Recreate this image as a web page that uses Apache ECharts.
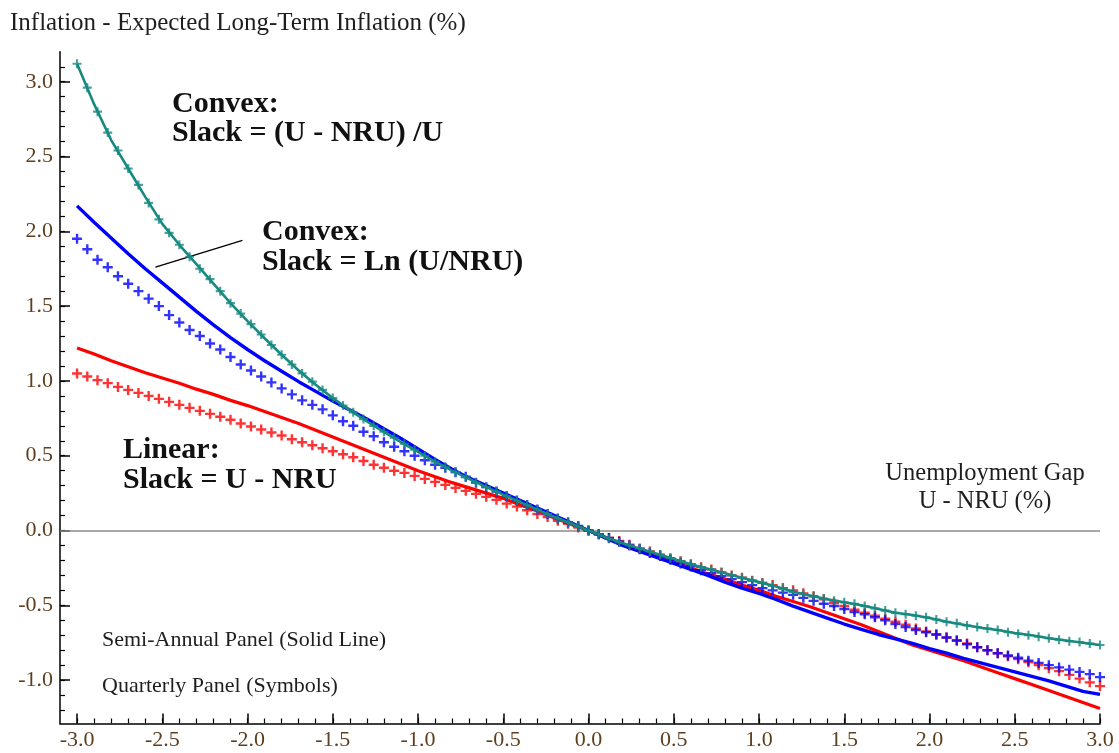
<!DOCTYPE html>
<html>
<head>
<meta charset="utf-8">
<script src="https://cdn.jsdelivr.net/npm/echarts@6/dist/echarts.min.js"></script>
<style>
html,body{margin:0;padding:0;background:#fff;}
#chart{width:1119px;height:753px;}
</style>
</head>
<body>
<div id="chart"></div>
<script>
// ---------- DATA ----------
// Unemployment gap grid, semi-annual panel (solid lines)
const X_SEMI = [-3.0,-2.9,-2.8,-2.7,-2.6,-2.5,-2.4,-2.3,-2.2,-2.1,-2.0,-1.9,-1.8,-1.7,-1.6,-1.5,-1.4,-1.3,-1.2,-1.1,-1.0,-0.9,-0.8,-0.7,-0.6,-0.5,-0.4,-0.3,-0.2,-0.1,0.0,0.1,0.2,0.3,0.4,0.5,0.6,0.7,0.8,0.9,1.0,1.1,1.2,1.3,1.4,1.5,1.6,1.7,1.8,1.9,2.0,2.1,2.2,2.3,2.4,2.5,2.6,2.7,2.8,2.9,3.0];
const TEAL_SEMI = [3.12,2.85,2.61,2.42,2.23,2.05,1.91,1.78,1.65,1.52,1.40,1.285,1.175,1.07,0.975,0.885,0.805,0.73,0.66,0.59,0.525,0.46,0.40,0.345,0.29,0.24,0.19,0.14,0.09,0.045,0.0,-0.045,-0.085,-0.12,-0.155,-0.19,-0.225,-0.255,-0.285,-0.315,-0.345,-0.375,-0.41,-0.435,-0.46,-0.48,-0.50,-0.525,-0.55,-0.565,-0.585,-0.61,-0.63,-0.65,-0.665,-0.685,-0.70,-0.72,-0.735,-0.75,-0.765];
const BLUE_SEMI = [2.17,2.06,1.955,1.85,1.75,1.655,1.56,1.465,1.375,1.29,1.21,1.135,1.065,0.995,0.93,0.865,0.805,0.745,0.68,0.615,0.545,0.475,0.41,0.35,0.30,0.25,0.20,0.15,0.10,0.05,0.0,-0.05,-0.10,-0.14,-0.18,-0.22,-0.26,-0.30,-0.345,-0.385,-0.42,-0.46,-0.505,-0.545,-0.585,-0.625,-0.66,-0.695,-0.725,-0.755,-0.79,-0.82,-0.855,-0.885,-0.915,-0.945,-0.975,-1.005,-1.04,-1.075,-1.095];
const RED_SEMI = [1.22,1.18,1.135,1.095,1.055,1.02,0.985,0.945,0.91,0.87,0.835,0.795,0.755,0.715,0.67,0.625,0.58,0.535,0.49,0.445,0.40,0.36,0.32,0.285,0.25,0.215,0.17,0.13,0.085,0.04,0.0,-0.045,-0.09,-0.13,-0.17,-0.21,-0.25,-0.29,-0.325,-0.365,-0.40,-0.44,-0.475,-0.51,-0.55,-0.59,-0.63,-0.675,-0.72,-0.765,-0.80,-0.835,-0.87,-0.91,-0.95,-0.99,-1.03,-1.07,-1.11,-1.15,-1.19];

// Quarterly panel (symbols)
const X_QTR = [-3.00,-2.94,-2.88,-2.82,-2.76,-2.70,-2.64,-2.58,-2.52,-2.46,-2.40,-2.34,-2.28,-2.22,-2.16,-2.10,-2.04,-1.98,-1.92,-1.86,-1.80,-1.74,-1.68,-1.62,-1.56,-1.50,-1.44,-1.38,-1.32,-1.26,-1.20,-1.14,-1.08,-1.02,-0.96,-0.90,-0.84,-0.78,-0.72,-0.66,-0.60,-0.54,-0.48,-0.42,-0.36,-0.30,-0.24,-0.18,-0.12,-0.06,0.00,0.06,0.12,0.18,0.24,0.30,0.36,0.42,0.48,0.54,0.60,0.66,0.72,0.78,0.84,0.90,0.96,1.02,1.08,1.14,1.20,1.26,1.32,1.38,1.44,1.50,1.56,1.62,1.68,1.74,1.80,1.86,1.92,1.98,2.04,2.10,2.16,2.22,2.28,2.34,2.40,2.46,2.52,2.58,2.64,2.70,2.76,2.82,2.88,2.94,3.00];
const TEAL_QTR = [3.12,2.96,2.80,2.66,2.54,2.42,2.31,2.19,2.08,1.99,1.91,1.83,1.75,1.68,1.60,1.52,1.45,1.38,1.31,1.24,1.175,1.11,1.05,0.995,0.94,0.885,0.835,0.79,0.745,0.70,0.66,0.62,0.58,0.54,0.50,0.46,0.425,0.39,0.355,0.32,0.29,0.26,0.23,0.20,0.17,0.14,0.11,0.08,0.055,0.025,0.00,
  -0.025,-0.055,-0.08,-0.10,-0.12,-0.14,-0.16,-0.185,-0.205,-0.225,-0.245,-0.26,-0.28,-0.30,-0.315,-0.335,-0.35,-0.37,-0.39,-0.41,-0.425,-0.44,-0.455,-0.47,-0.48,-0.49,-0.505,-0.52,-0.535,-0.55,-0.56,-0.57,-0.58,-0.595,-0.61,-0.62,-0.635,-0.645,-0.655,-0.665,-0.68,-0.69,-0.70,-0.71,-0.72,-0.73,-0.74,-0.745,-0.755,-0.765];
const BLUE_QTR = [1.95,1.88,1.81,1.76,1.70,1.65,1.60,1.55,1.50,1.44,1.39,1.34,1.30,1.25,1.21,1.16,1.11,1.07,1.03,0.99,0.95,0.91,0.87,0.84,0.81,0.77,0.73,0.70,0.66,0.63,0.59,0.56,0.53,0.50,0.47,0.44,0.42,0.39,0.36,0.32,0.29,0.26,0.23,0.20,0.17,0.14,0.11,0.08,0.055,0.03,0.00,
  -0.025,-0.05,-0.075,-0.10,-0.125,-0.15,-0.17,-0.195,-0.22,-0.24,-0.265,-0.285,-0.305,-0.325,-0.345,-0.365,-0.385,-0.40,-0.415,-0.43,-0.45,-0.47,-0.49,-0.505,-0.525,-0.545,-0.56,-0.58,-0.60,-0.625,-0.645,-0.665,-0.68,-0.695,-0.715,-0.735,-0.76,-0.78,-0.80,-0.82,-0.835,-0.85,-0.87,-0.885,-0.90,-0.915,-0.93,-0.945,-0.96,-0.98];
const RED_QTR = [1.05,1.03,1.005,0.985,0.96,0.94,0.92,0.90,0.88,0.86,0.84,0.82,0.80,0.78,0.76,0.74,0.715,0.695,0.675,0.655,0.635,0.61,0.59,0.57,0.55,0.53,0.51,0.49,0.465,0.44,0.42,0.40,0.385,0.365,0.345,0.325,0.305,0.285,0.265,0.245,0.225,0.205,0.18,0.16,0.135,0.11,0.09,0.065,0.045,0.02,0.00,
  -0.025,-0.05,-0.07,-0.095,-0.12,-0.14,-0.165,-0.185,-0.205,-0.225,-0.245,-0.26,-0.28,-0.30,-0.315,-0.335,-0.35,-0.365,-0.385,-0.40,-0.42,-0.44,-0.46,-0.485,-0.505,-0.53,-0.55,-0.57,-0.59,-0.61,-0.63,-0.655,-0.675,-0.695,-0.715,-0.735,-0.755,-0.78,-0.80,-0.82,-0.84,-0.86,-0.88,-0.90,-0.92,-0.94,-0.965,-0.99,-1.015,-1.04];

// Axis ticks
const X_TICKS = [-3.0,-2.5,-2.0,-1.5,-1.0,-0.5,0.0,0.5,1.0,1.5,2.0,2.5,3.0];
const Y_TICKS = [-1.0,-0.5,0.0,0.5,1.0,1.5,2.0,2.5,3.0];
const X_MINOR = [-3.0,-2.9,-2.8,-2.7,-2.6,-2.5,-2.4,-2.3,-2.2,-2.1,-2.0,-1.9,-1.8,-1.7,-1.6,-1.5,-1.4,-1.3,-1.2,-1.1,-1.0,-0.9,-0.8,-0.7,-0.6,-0.5,-0.4,-0.3,-0.2,-0.1,0.0,0.1,0.2,0.3,0.4,0.5,0.6,0.7,0.8,0.9,1.0,1.1,1.2,1.3,1.4,1.5,1.6,1.7,1.8,1.9,2.0,2.1,2.2,2.3,2.4,2.5,2.6,2.7,2.8,2.9,3.0];
const Y_MINOR = [-1.2,-1.1,-1.0,-0.9,-0.8,-0.7,-0.6,-0.5,-0.4,-0.3,-0.2,-0.1,0.0,0.1,0.2,0.3,0.4,0.5,0.6,0.7,0.8,0.9,1.0,1.1,1.2,1.3,1.4,1.5,1.6,1.7,1.8,1.9,2.0,2.1,2.2,2.3,2.4,2.5,2.6,2.7,2.8,2.9,3.0,3.1];

// Leader line for the Ln(U/NRU) annotation (data coordinates)
const LEADER = [[-2.54, 1.76], [-2.03, 1.94]];

// ---------- CHART ----------
const SERIF = '"Liberation Serif","Times New Roman",serif';
const TEAL = '#178a80', BLUE = '#0000ff', RED = '#ff0000';
const LABEL_COLOR = '#5e4020';
const PLUS = 'path://M3.8,0H6.2V3.8H10V6.2H6.2V10H3.8V6.2H0V3.8H3.8Z';
const pts = (xs, ys) => xs.map((x, i) => [x, ys[i]]);

const chart = echarts.init(document.getElementById('chart'), null, {renderer: 'canvas'});

const X_MIN = -3.1, X_MAX = 3.0, Y_MIN = -1.29, Y_MAX = 3.2;

const axisLineStyle = {color: '#000', width: 1.5};

chart.setOption({
  animation: false,
  backgroundColor: '#fff',
  grid: {left: 60, right: 19, top: 51.8, bottom: 29.5, containLabel: false, outerBoundsMode: 'none'},
  xAxis: [
    {
      type: 'value', min: X_MIN, max: X_MAX, position: 'bottom',
      axisLine: {show: true, onZero: false, lineStyle: axisLineStyle},
      axisTick: {show: true, inside: true, length: 10, customValues: X_TICKS, lineStyle: {color: '#000', width: 1.5}},
      axisLabel: {show: true, customValues: X_TICKS, margin: 6, color: LABEL_COLOR, fontFamily: SERIF, fontSize: 22,
        formatter: v => v.toFixed(1)},
      splitLine: {show: false}
    },
    {
      type: 'value', min: X_MIN, max: X_MAX, position: 'bottom',
      axisLine: {show: false, onZero: false},
      axisTick: {show: true, inside: true, length: 5, customValues: X_MINOR, lineStyle: {color: '#000', width: 1.2}},
      axisLabel: {show: false},
      splitLine: {show: false}
    }
  ],
  yAxis: [
    {
      type: 'value', min: Y_MIN, max: Y_MAX, position: 'left',
      axisLine: {show: true, onZero: false, lineStyle: axisLineStyle},
      axisTick: {show: true, inside: true, length: 10, customValues: Y_TICKS, lineStyle: {color: '#000', width: 1.5}},
      axisLabel: {show: true, customValues: Y_TICKS, margin: 7, color: LABEL_COLOR, fontFamily: SERIF, fontSize: 22,
        formatter: v => v.toFixed(1)},
      splitLine: {show: false}
    },
    {
      type: 'value', min: Y_MIN, max: Y_MAX, position: 'left',
      axisLine: {show: false, onZero: false},
      axisTick: {show: true, inside: true, length: 5, customValues: Y_MINOR, lineStyle: {color: '#000', width: 1.2}},
      axisLabel: {show: false},
      splitLine: {show: false}
    }
  ],
  series: [
    {
      name: 'Linear (Semi-Annual)', type: 'line', data: pts(X_SEMI, RED_SEMI),
      showSymbol: false, lineStyle: {color: RED, width: 3.2}, z: 3,
      markLine: {
        silent: true, symbol: 'none', label: {show: false},
        data: [
          {yAxis: 0, lineStyle: {color: '#8a8a8a', width: 1.5, type: 'solid'}},
          [{coord: LEADER[0], lineStyle: {color: '#000', width: 1.3, type: 'solid'}}, {coord: LEADER[1]}]
        ]
      }
    },
    {
      name: 'Ln (Semi-Annual)', type: 'line', data: pts(X_SEMI, BLUE_SEMI),
      showSymbol: false, lineStyle: {color: BLUE, width: 3.4}, z: 4
    },
    {
      name: 'Linear (Quarterly)', type: 'scatter', data: pts(X_QTR, RED_QTR),
      symbol: PLUS, symbolSize: 10, itemStyle: {color: RED}, z: 5
    },
    {
      name: 'Ln (Quarterly)', type: 'scatter', data: pts(X_QTR, BLUE_QTR),
      symbol: PLUS, symbolSize: 10, itemStyle: {color: BLUE}, z: 6
    },
    {
      name: 'Ratio (Semi-Annual)', type: 'line', data: pts(X_SEMI, TEAL_SEMI),
      showSymbol: false, lineStyle: {color: TEAL, width: 2.6}, z: 7
    },
    {
      name: 'Ratio (Quarterly)', type: 'scatter', data: pts(X_QTR, TEAL_QTR),
      symbol: PLUS, symbolSize: 9, itemStyle: {color: TEAL}, z: 8
    }
  ],
  graphic: [
    {type: 'text', left: 10, top: 11, style: {text: 'Inflation - Expected Long-Term Inflation (%)', font: '25px ' + SERIF, fill: '#1e1e1e'}},
    {type: 'text', left: 172, top: 89, style: {text: 'Convex:\nSlack = (U - NRU) /U', font: 'bold 30px ' + SERIF, lineHeight: 29, fill: '#111'}},
    {type: 'text', left: 262, top: 217, style: {text: 'Convex:\nSlack = Ln (U/NRU)', font: 'bold 30px ' + SERIF, lineHeight: 30, fill: '#111'}},
    {type: 'text', left: 123, top: 435, style: {text: 'Linear:\nSlack = U - NRU', font: 'bold 30px ' + SERIF, lineHeight: 30, fill: '#111'}},
    {type: 'text', x: 985, y: 460, style: {text: 'Unemployment Gap\nU - NRU (%)', font: '24.5px ' + SERIF, lineHeight: 28, fill: '#1e1e1e', align: 'center', verticalAlign: 'top'}},
    {type: 'text', left: 102, top: 629, style: {text: 'Semi-Annual Panel (Solid Line)', font: '22px ' + SERIF, fill: '#1e1e1e'}},
    {type: 'text', left: 102, top: 675, style: {text: 'Quarterly Panel (Symbols)', font: '22px ' + SERIF, fill: '#1e1e1e'}}
  ]
});
</script>
</body>
</html>
